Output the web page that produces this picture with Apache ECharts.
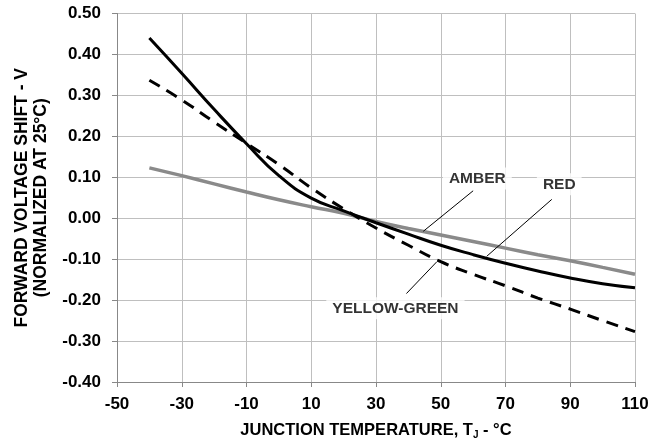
<!DOCTYPE html>
<html lang="en">
<head>
<meta charset="UTF-8">
<title>Forward voltage shift vs junction temperature</title>
<style>
  html, body { margin: 0; padding: 0; background: #fff; }
  #main { width: 666px; height: 445px; }
</style>
</head>
<body>
<div id="main"></div>
<script src="https://cdn.jsdelivr.net/npm/echarts@6/dist/echarts.min.js"></script>
<script>
// junction temperature, deg C
const temps = [-40, -30, -20, -10, 0, 10, 20, 30, 40, 50, 60, 70, 80, 90, 100, 110];
// forward voltage shift (V), normalized at 25 C
const red         = [0.440, 0.354, 0.266, 0.182, 0.104, 0.049, 0.018, -0.011, -0.039, -0.066, -0.089, -0.110, -0.129, -0.146, -0.160, -0.170];
const amber       = [0.123, 0.104, 0.084, 0.064, 0.045, 0.028, 0.012, -0.008, -0.025, -0.041, -0.057, -0.073, -0.089, -0.104, -0.120, -0.137];
const yellowGreen = [0.337, 0.289, 0.235, 0.183, 0.131, 0.074, 0.023, -0.024, -0.066, -0.106, -0.137, -0.165, -0.195, -0.222, -0.250, -0.277];

// callouts: label position and leader line ends (data coords)
const calloutNames = ['AMBER', 'RED', 'YELLOW-GREEN'];
const calloutPos = [[61.3, 0.097], [86.6, 0.083], [36.0, -0.220]];
const leaderFrom = [[60.0, 0.067], [84.3, 0.046], [48.7, -0.107]];
const leaderTo   = [[44.6, -0.032], [64.2, -0.093], [39.4, -0.184]];

const pair = (ys) => temps.map((t, i) => [t, ys[i]]);
const font = 'Liberation Sans, Arial, sans-serif';

const chart = echarts.init(document.getElementById('main'));
chart.setOption({
  animation: false,
  grid: { left: 117, right: 31, top: 13.5, bottom: 63 },
  xAxis: {
    type: 'value', min: -50, max: 110, interval: 20,
    name: '{a|JUNCTION TEMPERATURE, T}{s|J}{a| - °C}',
    nameLocation: 'middle', nameGap: 38,
    nameTextStyle: {
      rich: {
        a: { fontFamily: font, fontWeight: 'bold', fontSize: 16.5, color: '#000', lineHeight: 20 },
        s: { fontFamily: font, fontWeight: 'bold', fontSize: 10, color: '#000', lineHeight: 10, verticalAlign: 'bottom' }
      }
    },
    axisLine: { onZero: false, lineStyle: { color: '#888', width: 1 } },
    axisTick: { show: true, length: 5, lineStyle: { color: '#888' } },
    axisLabel: { fontFamily: font, fontWeight: 'bold', fontSize: 17, color: '#000', margin: 14 },
    splitLine: { show: true, lineStyle: { color: '#bfbfbf', width: 1 } }
  },
  yAxis: {
    type: 'value', min: -0.4, max: 0.5, interval: 0.1,
    name: 'FORWARD VOLTAGE SHIFT - V\n(NORMALIZED AT 25°C)',
    nameLocation: 'middle', nameGap: 66,
    nameTextStyle: { fontFamily: font, fontWeight: 'bold', fontSize: 17.5, color: '#000', lineHeight: 19 },
    axisLine: { show: true, onZero: false, lineStyle: { color: '#888', width: 1 } },
    axisTick: { show: true, length: 5, lineStyle: { color: '#888' } },
    axisLabel: {
      fontFamily: font, fontWeight: 'bold', fontSize: 17, color: '#000', margin: 16,
      formatter: (v) => v.toFixed(2)
    },
    splitLine: { show: true, lineStyle: { color: '#bfbfbf', width: 1 } }
  },
  series: [
    {
      name: 'AMBER', type: 'line', data: pair(amber), smooth: true, symbol: 'none', z: 3,
      lineStyle: { color: '#8a8a8a', width: 3.5 }
    },
    {
      name: 'YELLOW-GREEN', type: 'line', data: pair(yellowGreen), smooth: true, symbol: 'none', z: 4,
      lineStyle: { color: '#000', width: 3, type: [12, 8] }
    },
    {
      name: 'RED', type: 'line', data: pair(red), smooth: true, symbol: 'none', z: 5,
      lineStyle: { color: '#000', width: 3 }
    },
    {
      type: 'lines', coordinateSystem: 'cartesian2d', z: 6, silent: true,
      lineStyle: { color: '#000', width: 1, opacity: 1 },
      data: leaderFrom.map((p, i) => ({ coords: [p, leaderTo[i]] }))
    },
    {
      type: 'scatter', symbolSize: 0, z: 7, silent: true,
      data: calloutPos.map((p, i) => [p[0], p[1], calloutNames[i]]),
      label: {
        show: true, position: 'inside',
        formatter: (p) => p.value[2],
        fontFamily: font, fontWeight: 'bold', fontSize: 15.5, color: '#000',
        backgroundColor: '#fff', padding: [3, 6]
      }
    }
  ]
});
</script>
</body>
</html>
